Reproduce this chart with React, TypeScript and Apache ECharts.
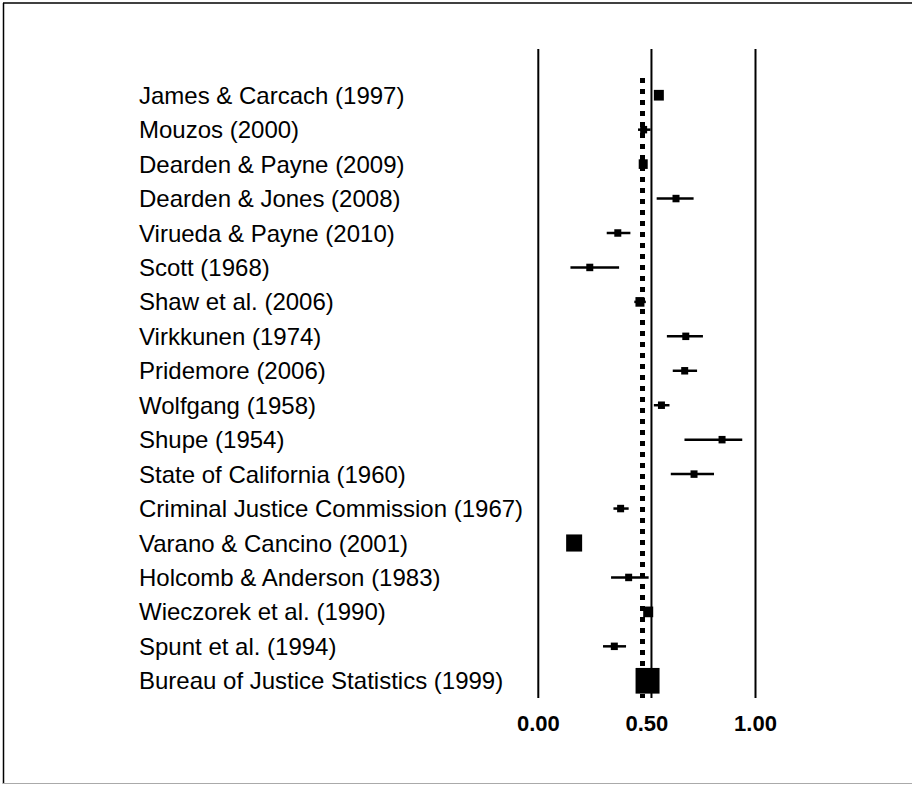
import React, { useEffect, useRef } from "react";
import * as echarts from "echarts";

const studies = [
  "James & Carcach (1997)",
  "Mouzos (2000)",
  "Dearden & Payne (2009)",
  "Dearden & Jones (2008)",
  "Virueda & Payne (2010)",
  "Scott (1968)",
  "Shaw et al. (2006)",
  "Virkkunen (1974)",
  "Pridemore (2006)",
  "Wolfgang (1958)",
  "Shupe (1954)",
  "State of California (1960)",
  "Criminal Justice Commission (1967)",
  "Varano & Cancino (2001)",
  "Holcomb & Anderson (1983)",
  "Wieczorek et al. (1990)",
  "Spunt et al. (1994)",
  "Bureau of Justice Statistics (1999)",
];

const estimates = [0.555, 0.485, 0.483, 0.634, 0.366, 0.237, 0.468, 0.679, 0.674, 0.567, 0.846, 0.717, 0.379, 0.165, 0.416, 0.506, 0.35, 0.503];
const lower = [0.54, 0.459, 0.475, 0.545, 0.315, 0.148, 0.442, 0.592, 0.619, 0.532, 0.673, 0.61, 0.346, 0.15, 0.335, 0.495, 0.298, 0.49];
const upper = [0.57, 0.517, 0.49, 0.715, 0.424, 0.372, 0.495, 0.758, 0.731, 0.604, 0.939, 0.809, 0.416, 0.18, 0.508, 0.52, 0.404, 0.515];
// marker sizes (study weights, in px)
const weights = [10, 7, 9, 7, 7, 7, 9, 7, 7, 7, 7, 7, 7, 16, 7, 10, 7, 24];

const referenceLines = [0, 0.521, 1];
const pooledEstimate = 0.485;
const tickValues = [0, 0.5, 1];

export default function App() {
  const ref = useRef<HTMLDivElement>(null);

  useEffect(() => {
    if (!ref.current) return;
    const chart = echarts.init(ref.current, undefined, { renderer: "svg" });
    const L = 538.3;
    const R = 912 - 755.5;
    const option: any = {
      animation: false,
      backgroundColor: "#fff",
      grid: [
        { left: L, right: R, top: 78, bottom: 785 - 698 },
        { left: L, right: R, top: 49, bottom: 785 - 698 },
      ],
      xAxis: [
        {
          gridIndex: 0,
          type: "value",
          min: tickValues[0],
          max: tickValues[tickValues.length - 1],
          interval: 0.5,
          axisLine: { show: false },
          axisTick: { show: false },
          splitLine: { show: false },
          axisLabel: {
            formatter: (v: number) => v.toFixed(2),
            fontWeight: "bold",
            fontSize: 22,
            color: "#000",
            fontFamily: "Liberation Sans, Arial, sans-serif",
            margin: 14,
          },
        },
        { gridIndex: 1, type: "value", min: 0, max: 1, show: false },
      ],
      yAxis: [
        {
          gridIndex: 0,
          type: "category",
          data: studies,
          inverse: true,
          axisLine: { show: false },
          axisTick: { show: false },
          splitLine: { show: false },
          axisLabel: {
            align: "left",
            margin: L - 139,
            fontSize: 24,
            color: "#000",
            padding: [5, 0, 0, 0],
            fontFamily: "Liberation Sans, Arial, sans-serif",
          },
        },
        { gridIndex: 1, type: "value", min: 0, max: 1, show: false },
      ],
      graphic: [
        { type: "line", shape: { x1: 3, y1: 3, x2: 912, y2: 3 }, style: { stroke: "#000", lineWidth: 1.5 } },
        { type: "line", shape: { x1: 3.5, y1: 3, x2: 3.5, y2: 784 }, style: { stroke: "#000", lineWidth: 1.5 } },
        { type: "line", shape: { x1: 3, y1: 783.5, x2: 912, y2: 783.5 }, style: { stroke: "#aaa", lineWidth: 1 } },
      ],
      series: [
        ...referenceLines.map((v) => ({
          type: "line",
          xAxisIndex: 1,
          yAxisIndex: 1,
          data: [
            [v, 0],
            [v, 1],
          ],
          symbol: "none",
          silent: true,
          lineStyle: { color: "#000", width: 2 },
        })),
        {
          type: "custom",
          xAxisIndex: 0,
          yAxisIndex: 0,
          data: studies.map((s, i) => [i, lower[i], estimates[i], upper[i], weights[i]]),
          encode: { x: [1, 2, 3], y: 0 },
          renderItem: (params: any, api: any) => {
            const idx = api.value(0);
            const lo = api.coord([api.value(1), idx]);
            const est = api.coord([api.value(2), idx]);
            const hi = api.coord([api.value(3), idx]);
            const w = api.value(4);
            const h = w * 1.07;
            return {
              type: "group",
              children: [
                {
                  type: "line",
                  shape: { x1: lo[0], y1: lo[1], x2: hi[0], y2: hi[1] },
                  style: { stroke: "#000", lineWidth: 2.5 },
                },
                {
                  type: "rect",
                  shape: { x: est[0] - w / 2, y: est[1] - h / 2, width: w, height: h },
                  style: { fill: "#000" },
                },
              ],
            };
          },
          markLine: {
            silent: true,
            symbol: "none",
            label: { show: false },
            lineStyle: { color: "#000", width: 5, type: [5, 6] },
            data: [{ xAxis: pooledEstimate }],
          },
        },
      ],
    };
    chart.setOption(option);
    return () => chart.dispose();
  }, []);

  return (
    <div
      ref={ref}
      style={{ position: "fixed", left: 0, top: 0, width: 912, height: 785, background: "#fff" }}
    />
  );
}
